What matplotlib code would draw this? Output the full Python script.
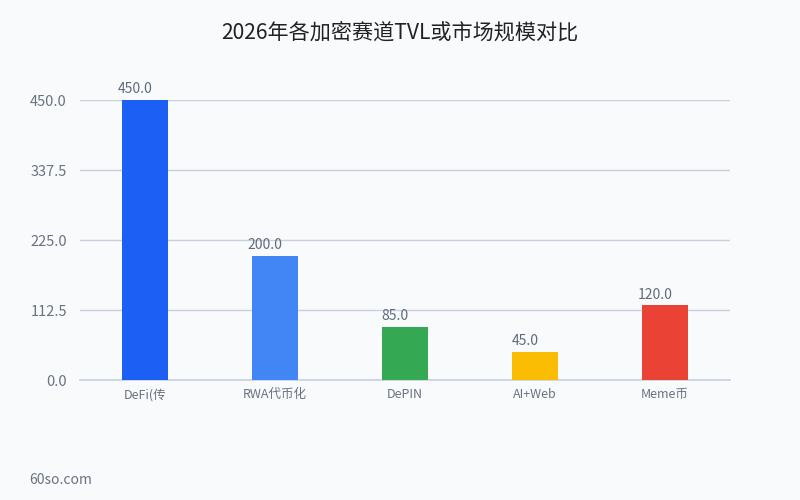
import matplotlib.pyplot as plt
import numpy as np

plt.rcParams['font.family'] = ['Noto Sans CJK SC', 'DejaVu Sans']

categories = ['DeFi(传', 'RWA代币化', 'DePIN', 'AI+Web', 'Meme币']
values = [450.0, 200.0, 85.0, 45.0, 120.0]
colors = ['#1c5ff5', '#4285f4', '#34a853', '#fbbc04', '#ea4335']
yticks = [0.0, 112.5, 225.0, 337.5, 450.0]

bg = '#f8fafc'
fig = plt.figure(figsize=(8, 5), dpi=100, facecolor=bg)
ax = fig.add_axes([0.1, 0.24, 0.8125, 0.56], facecolor=bg)

x = np.arange(len(categories))
ax.bar(x, values, width=0.354, color=colors, zorder=3)
for xi, v in zip(x, values):
    ax.text(xi - 0.075, v + 6, f'{v:.1f}', ha='center', va='bottom',
            fontsize=10, color='#5f6b7c')

ax.set_xlim(-0.5, len(categories) - 0.5)
ax.set_ylim(0, 450)
ax.set_yticks(yticks)
ax.set_yticklabels([f'{t:.1f}' for t in yticks])
ax.set_xticks(x)
ax.set_xticklabels(categories)
ax.grid(axis='y', color='#c8d0e0', linewidth=1, zorder=0)
ax.axhline(0, color='#c8d0e0', linewidth=1.2, zorder=2, clip_on=False)
ax.tick_params(axis='both', length=0, labelcolor='#6b7280')
ax.tick_params(axis='y', pad=9.5, labelsize=10.5)
ax.tick_params(axis='x', pad=6, labelsize=9)
for s in ax.spines.values():
    s.set_visible(False)

fig.text(0.5, 0.935, '2026年各加密赛道TVL或市场规模对比', ha='center', va='center',
         fontsize=15.2, color='#222222')
fig.text(0.037, 0.04, '60so.com', ha='left', va='center', fontsize=10, color='#6b7280')

fig.savefig('out.png', dpi=100, facecolor=bg)
